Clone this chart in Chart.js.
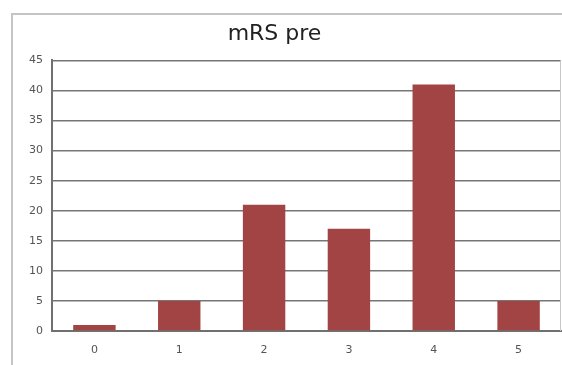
<!DOCTYPE html>
<html>
<head>
<meta charset="utf-8">
<script src="https://cdn.jsdelivr.net/npm/chart.js@4/dist/chart.umd.min.js"></script>
<style>
  html, body { margin: 0; padding: 0; background: #fff; }
  #wrap { position: relative; width: 562px; height: 365px; overflow: hidden; }
  #frame { position: absolute; left: 11px; top: 13px; width: 560px; height: 360px;
           border-left: 2px solid #c4c4c4; border-top: 2px solid #c4c4c4; }
  /* canvas shifted left so the title centre lands where the reference has it */
  canvas { position: absolute; left: -12px; top: 0; }
</style>
</head>
<body>
<div id="wrap">
  <div id="frame"></div>
  <canvas id="chart" width="574" height="365"></canvas>
</div>
<script>
// mRS pre distribution
const categories = ['0', '1', '2', '3', '4', '5'];
const counts = [1, 5, 21, 17, 41, 5];

/* thin light border on the right side of the plot */
const rightEdge = {
  id: 'rightEdge',
  afterDraw(chart) {
    const { ctx, chartArea } = chart;
    ctx.save();
    ctx.strokeStyle = '#c8c8c8';
    ctx.lineWidth = 1;
    ctx.beginPath();
    ctx.moveTo(chartArea.right - 0.5, chartArea.top);
    ctx.lineTo(chartArea.right - 0.5, chartArea.bottom);
    ctx.stroke();
    ctx.restore();
  }
};

new Chart(document.getElementById('chart'), {
  type: 'bar',
  data: {
    labels: categories,
    datasets: [{
      data: counts,
      backgroundColor: '#a24443',
      borderWidth: 0,
      barPercentage: 0.5,
      categoryPercentage: 1.0
    }]
  },
  options: {
    responsive: false,
    animation: false,
    layout: { padding: { left: 0, right: 1, top: 0, bottom: 0 } },
    plugins: {
      legend: { display: false },
      tooltip: { enabled: false },
      title: {
        display: true,
        text: 'mRS pre',
        color: '#222',
        font: { family: 'DejaVu Sans', size: 22, weight: 'normal' },
        padding: { top: 21, bottom: 13 }
      }
    },
    scales: {
      x: {
        afterFit(scale) { scale.height = 34; },
        grid: { display: false, drawTicks: false },
        border: { color: '#707070', width: 2 },
        ticks: {
          color: '#555',
          font: { family: 'DejaVu Sans', size: 11 },
          padding: 13
        }
      },
      y: {
        min: 0,
        max: 45,
        afterFit(scale) { scale.width = 64; },
        grid: { color: '#767676', lineWidth: 1.6, drawTicks: false },
        border: { color: '#707070', width: 2 },
        ticks: {
          stepSize: 5,
          color: '#555',
          font: { family: 'DejaVu Sans', size: 11 },
          padding: 9
        }
      }
    }
  },
  plugins: [rightEdge]
});
</script>
</body>
</html>
